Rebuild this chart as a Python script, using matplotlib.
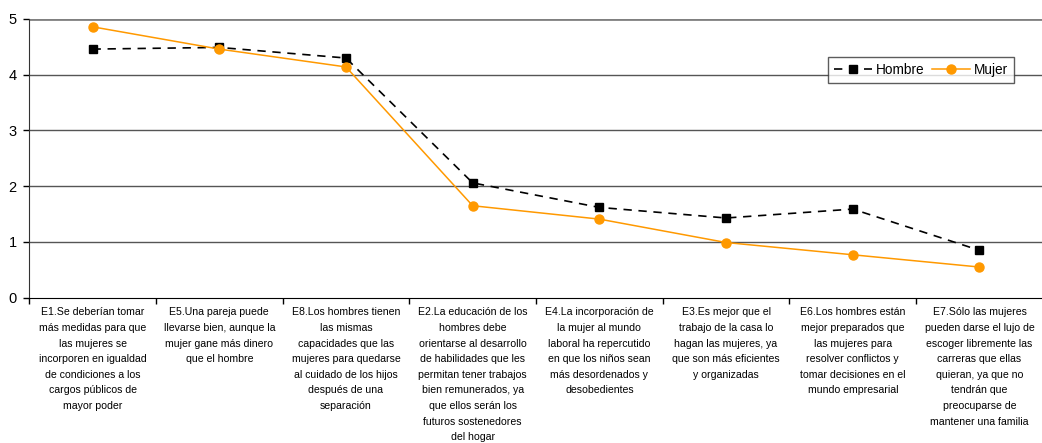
import matplotlib
matplotlib.use('Agg')
import matplotlib.pyplot as plt
import numpy as np

plt.rcParams['font.family'] = ['Liberation Sans', 'DejaVu Sans']

# category labels (wrapped as in the original chart)
categories = [
    "E1.Se deberían tomar\nmás medidas para que\nlas mujeres se\nincorporen en igualdad\nde condiciones a los\ncargos públicos de\nmayor poder",
    "E5.Una pareja puede\nllevarse bien, aunque la\nmujer gane más dinero\nque el hombre",
    "E8.Los hombres tienen\nlas mismas\ncapacidades que las\nmujeres para quedarse\nal cuidado de los hijos\ndespués de una\nseparación",
    "E2.La educación de los\nhombres debe\norientarse al desarrollo\nde habilidades que les\npermitan tener trabajos\nbien remunerados, ya\nque ellos serán los\nfuturos sostenedores\ndel hogar",
    "E4.La incorporación de\nla mujer al mundo\nlaboral ha repercutido\nen que los niños sean\nmás desordenados y\ndesobedientes",
    "E3.Es mejor que el\ntrabajo de la casa lo\nhagan las mujeres, ya\nque son más eficientes\ny organizadas",
    "E6.Los hombres están\nmejor preparados que\nlas mujeres para\nresolver conflictos y\ntomar decisiones en el\nmundo empresarial",
    "E7.Sólo las mujeres\npueden darse el lujo de\nescoger libremente las\ncarreras que ellas\nquieran, ya que no\ntendrán que\npreocuparse de\nmantener una familia",
]

hombre = [4.46, 4.49, 4.30, 2.06, 1.62, 1.43, 1.59, 0.85]
mujer = [4.86, 4.46, 4.14, 1.65, 1.41, 0.99, 0.77, 0.55]

y_ticks = [0, 1, 2, 3, 4, 5]

fig = plt.figure(figsize=(10.42, 4.43), dpi=100)
# axes spans from x=29 px to slightly past the right edge, y from 19 to 298 px
ax = fig.add_axes([29.2 / 1042, 1 - 297.7 / 443, 1013.6 / 1042, 278.7 / 443])

x = np.arange(len(categories))

ax.plot(x, hombre, color='black', linestyle=(0, (5, 4)), linewidth=1.2,
        marker='s', markersize=6, markerfacecolor='black', markeredgecolor='black',
        label='Hombre', zorder=3)
ax.plot(x, mujer, color='#FF9900', linestyle='-', linewidth=1.1,
        marker='o', markersize=6.5, markerfacecolor='#FF9900', markeredgecolor='#FF9900',
        label='Mujer', zorder=3)

ax.set_xlim(-0.5, len(categories) - 0.5)
ax.set_ylim(0, 5)

# gridlines
for yv in y_ticks[1:]:
    ax.axhline(yv, color='#555555' if yv < 5 else '#808080',
               linewidth=1 if yv < 5 else 2, zorder=1)

ax.set_yticks(y_ticks)
ax.set_yticklabels([str(v) for v in y_ticks], fontsize=10.5)
ax.tick_params(axis='y', length=4, width=1, pad=5)

ax.set_xticks(x)
ax.set_xticklabels(categories, fontsize=7.6, linespacing=1.7, va='top')
ax.tick_params(axis='x', which='major', length=0, pad=7)
ax.set_xticks(np.arange(len(categories) + 1) - 0.5, minor=True)
ax.tick_params(axis='x', which='minor', length=4, width=1, direction='out')

for side in ['top', 'right']:
    ax.spines[side].set_visible(False)
ax.spines['left'].set_color('#333333')
ax.spines['bottom'].set_color('black')

leg = ax.legend(loc='upper left', bbox_to_anchor=((828 - 29.2) / 1013.6, 1 - (57 - 19) / 278.7),
                ncol=2, frameon=True, fancybox=False, fontsize=9.8,
                handlelength=2.8, columnspacing=0.5, handletextpad=0.3,
                borderpad=0.45, borderaxespad=0)
leg.get_frame().set_edgecolor('#333333')
leg.get_frame().set_linewidth(1)

plt.savefig('out.png', dpi=100)
